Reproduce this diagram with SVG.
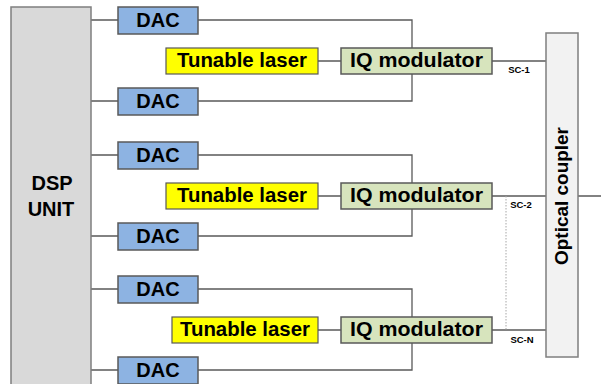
<svg xmlns="http://www.w3.org/2000/svg" width="601" height="384" viewBox="0 0 601 384">
<style>
.t{font-family:"Liberation Sans",Arial,sans-serif;font-weight:bold;fill:#000;text-anchor:middle}
.dsp{fill:#d9d9d9;stroke:#7f7f7f;stroke-width:1.5}
.dac{fill:#8db3e2;stroke:#595959;stroke-width:1.5}
.las{fill:#ffff00;stroke:#595959;stroke-width:1.2}
.iq{fill:#d7e4bd;stroke:#595959;stroke-width:1.5}
.cp{fill:#f2f2f2;stroke:#7f7f7f;stroke-width:1.5}
.ln{fill:none;stroke:#595959;stroke-width:1.3}
.dot{fill:none;stroke:#a6a6a6;stroke-width:1;stroke-dasharray:1.5 1.5}
.sc{font-size:9.5px}
</style>
<rect width="601" height="384" fill="#fff"/>
<g id="connectors">
<path class="ln" d="M91 20H118M91 101H118M91 155H118M91 236H118M91 289H118M91 370H118"/>
<path class="ln" d="M198 20H412V48M198 101H412V74M198 155H412V183M198 236H412V209M198 289H412V317M198 370H412V343"/>
<path class="ln" d="M318 61H341M318 196H341M318 330H341"/>
<path class="ln" d="M492 61H546M492 196H546M492 330H546M578 196H601"/>
<path class="dot" d="M506 196V330"/>
</g>
<g id="dsp"><rect class="dsp" x="11" y="7" width="80" height="380"/>
<text class="t" x="52" y="190" font-size="20">DSP</text>
<text class="t" x="51" y="216" font-size="20">UNIT</text></g>
<g id="dac1"><rect class="dac" x="118" y="7" width="80" height="27"/><text class="t" x="158" y="27" font-size="20">DAC</text></g>
<g id="dac2"><rect class="dac" x="118" y="88" width="80" height="27"/><text class="t" x="158" y="108" font-size="20">DAC</text></g>
<g id="dac3"><rect class="dac" x="118" y="142" width="80" height="27"/><text class="t" x="158" y="162" font-size="20">DAC</text></g>
<g id="dac4"><rect class="dac" x="118" y="223" width="80" height="27"/><text class="t" x="158" y="243" font-size="20">DAC</text></g>
<g id="dac5"><rect class="dac" x="118" y="276" width="80" height="27"/><text class="t" x="158" y="296" font-size="20">DAC</text></g>
<g id="dac6"><rect class="dac" x="118" y="357" width="80" height="27"/><text class="t" x="158" y="377" font-size="20">DAC</text></g>
<g id="laser1"><rect class="las" x="166" y="48" width="152" height="26"/><text class="t" x="242" y="67" font-size="20" textLength="130" lengthAdjust="spacingAndGlyphs">Tunable laser</text></g>
<g id="laser2"><rect class="las" x="166" y="183" width="152" height="26"/><text class="t" x="242" y="202" font-size="20" textLength="130" lengthAdjust="spacingAndGlyphs">Tunable laser</text></g>
<g id="laser3"><rect class="las" x="172" y="317" width="146" height="26"/><text class="t" x="245" y="336" font-size="20" textLength="130" lengthAdjust="spacingAndGlyphs">Tunable laser</text></g>
<g id="iq1"><rect class="iq" x="341" y="48" width="151" height="26"/><text class="t" x="416.5" y="67" font-size="20" textLength="133" lengthAdjust="spacingAndGlyphs">IQ modulator</text></g>
<g id="iq2"><rect class="iq" x="341" y="183" width="151" height="26"/><text class="t" x="416.5" y="202" font-size="20" textLength="133" lengthAdjust="spacingAndGlyphs">IQ modulator</text></g>
<g id="iq3"><rect class="iq" x="341" y="317" width="151" height="26"/><text class="t" x="416.5" y="336" font-size="20" textLength="133" lengthAdjust="spacingAndGlyphs">IQ modulator</text></g>
<g id="coupler"><rect class="cp" x="546" y="33" width="32" height="324"/>
<text class="t" transform="translate(568 196) rotate(-90)" font-size="18" textLength="138" lengthAdjust="spacingAndGlyphs">Optical coupler</text></g>
<g id="labels">
<text class="t sc" x="519" y="73">SC-1</text>
<text class="t sc" x="521" y="208">SC-2</text>
<text class="t sc" x="522" y="343">SC-N</text>
</g>
</svg>
